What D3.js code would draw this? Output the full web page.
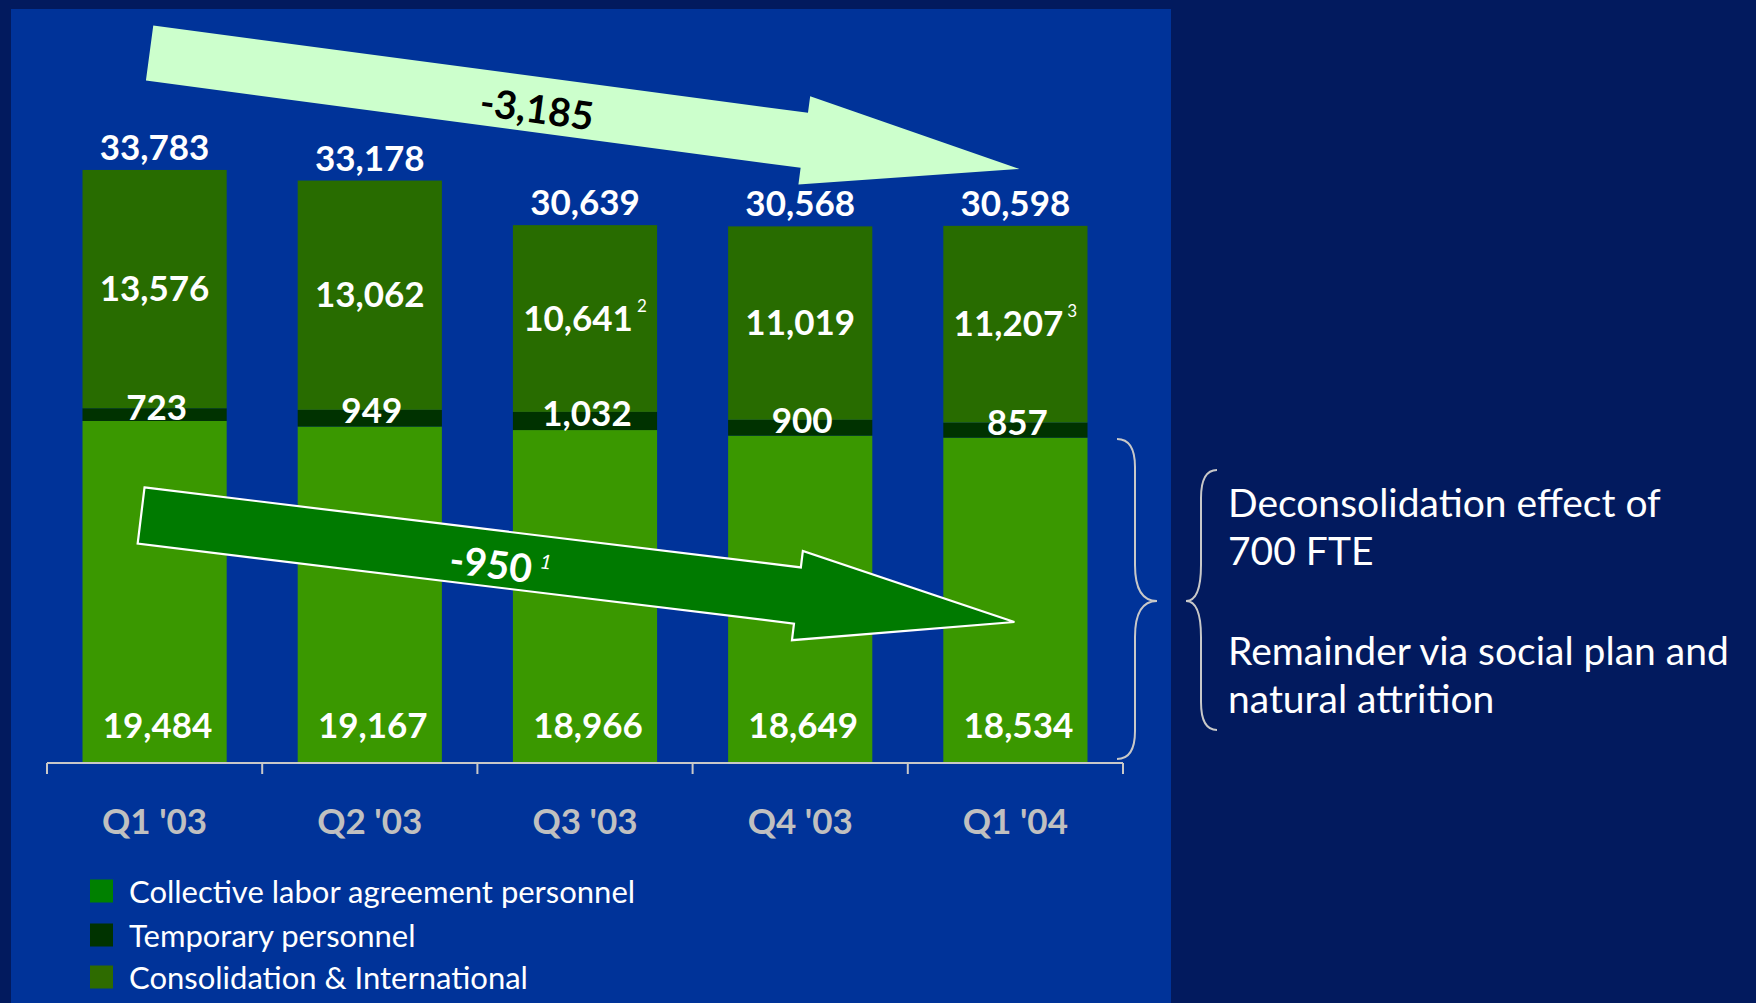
<!DOCTYPE html>
<html>
<head>
<meta charset="utf-8">
<script src="https://cdn.jsdelivr.net/npm/d3@7/dist/d3.min.js"></script>
<style>
  html, body { margin: 0; padding: 0; background: #021a5e; }
  svg { display: block; }
  text { font-family: Lato, "Open Sans", "DejaVu Sans", sans-serif; }
</style>
</head>
<body>
<svg id="chart" width="1756" height="1003"></svg>
<script>
// Headcount by quarter (FTE), stacked bottom to top
const quarters = ["Q1 '03", "Q2 '03", "Q3 '03", "Q4 '03", "Q1 '04"];
const collective = [19484, 19167, 18966, 18649, 18534];
const temporary = [723, 949, 1032, 900, 857];
const consolidation = [13576, 13062, 10641, 11019, 11207];
const consolidationNotes = ["", "", "2", "", "3"];
const seriesNames = ["Collective labor agreement personnel", "Temporary personnel", "Consolidation & International"];
const totalChange = "-3,185";
const collectiveChange = "-950";
const collectiveChangeNote = "1";
const sideNotes = [["Deconsolidation effect of", "700 FTE"], ["Remainder via social plan and", "natural attrition"]];

const barColors = ["#3a9800", "#003200", "#286c00"];
const legendColors = ["#008000", "#003300", "#2e6b00"];

const svg = d3.select("#chart");
const fmt = d3.format(",");

// panel
svg.append("rect").attr("x", 11).attr("y", 9).attr("width", 1160).attr("height", 1000).attr("fill", "#003399");

const x = d3.scaleBand().domain(quarters).range([47, 1123]).paddingInner(0.33).paddingOuter(0.165);
const y = d3.scaleLinear().domain([0, 35000]).range([763, 763 - 35000 * 0.017555]);
const xc = q => x(q) + x.bandwidth() / 2;

const rows = quarters.map((q, i) => ({
  q, i,
  vals: [collective[i], temporary[i], consolidation[i]],
  total: collective[i] + temporary[i] + consolidation[i]
}));
const stack = d3.stack().keys([0, 1, 2]).value((d, k) => d.vals[k]);
const layers = stack(rows);

const g = svg.append("g");
layers.forEach((layer, k) => {
  g.selectAll(null).data(layer).join("rect")
    .attr("x", d => x(d.data.q))
    .attr("width", x.bandwidth())
    .attr("y", d => y(d[1]))
    .attr("height", d => y(d[0]) - y(d[1]))
    .attr("fill", barColors[k]);
});

// axis line with boundary ticks
const axisY = y(0);
svg.append("line").attr("x1", x.range()[0]).attr("x2", x.range()[1]).attr("y1", axisY).attr("y2", axisY)
  .attr("stroke", "#c8c8c8").attr("stroke-width", 2);
const tickXs = d3.range(quarters.length + 1).map(i => x.range()[0] + i * x.step());
svg.selectAll(null).data(tickXs).join("line")
  .attr("x1", d => d).attr("x2", d => d).attr("y1", axisY).attr("y2", axisY + 11)
  .attr("stroke", "#c8c8c8").attr("stroke-width", 2);

// category labels
svg.selectAll(null).data(quarters).join("text")
  .attr("x", d => xc(d)).attr("y", 820)
  .attr("text-anchor", "middle").attr("dominant-baseline", "central")
  .attr("font-size", 35).attr("font-weight", 700).attr("fill", "#c0c0c0")
  .text(d => d);

const labelStyle = sel => sel.attr("text-anchor", "middle").attr("font-size", 35)
  .attr("font-weight", 700).attr("fill", "#ffffff");

// totals
svg.selectAll(null).data(rows).join("text")
  .attr("x", d => xc(d.q)).attr("y", d => y(d.total) - 10)
  .call(labelStyle).text(d => fmt(d.total));

// consolidation labels (centred in segment)
const consText = svg.selectAll(null).data(layers[2]).join("text")
  .attr("x", d => xc(d.data.q)).attr("y", d => (y(d[0]) + y(d[1])) / 2 - 2)
  .attr("dominant-baseline", "central")
  .call(labelStyle);
consText.append("tspan").text(d => fmt(d.data.vals[2]));
consText.append("tspan").attr("font-size", 17).attr("font-weight", 400).attr("dx", 4).attr("dy", -12)
  .text(d => consolidationNotes[d.data.i]);

// temporary labels
svg.selectAll(null).data(layers[1]).join("text")
  .attr("x", d => xc(d.data.q) + 2).attr("y", d => (y(d[0]) + y(d[1])) / 2 - 9)
  .attr("dominant-baseline", "central")
  .call(labelStyle).text(d => fmt(d.data.vals[1]));

// collective labels
svg.selectAll(null).data(layers[0]).join("text")
  .attr("x", d => xc(d.data.q) + 3).attr("y", d => y(d[0]) - 39)
  .attr("dominant-baseline", "central")
  .call(labelStyle).text(d => fmt(d.data.vals[0]));

// block arrow built along the line tail -> tip
function arrowPath(tx, ty, hx, hy, halfShaft, headLen, halfHead) {
  const len = Math.hypot(hx - tx, hy - ty);
  const ux = (hx - tx) / len, uy = (hy - ty) / len;
  const px = -uy, py = ux;
  const b = len - headLen;
  const pt = (a, s) => [tx + ux * a + px * s, ty + uy * a + py * s];
  const pts = [pt(0, -halfShaft), pt(b, -halfShaft), pt(b, -halfHead), pt(len, 0),
               pt(b, halfHead), pt(b, halfShaft), pt(0, halfShaft)];
  return d3.line()(pts) + "Z";
}
const firstQ = quarters[0], lastQ = quarters[quarters.length - 1];

// overall change arrow
const a1 = { tx: xc(firstQ) - 5, ty: 53, hx: xc(lastQ) + 4, hy: 169 };
svg.append("path").attr("d", arrowPath(a1.tx, a1.ty, a1.hx, a1.hy, 27.8, 217, 44.5)).attr("fill", "#ccffcc");
const ang1 = Math.atan2(a1.hy - a1.ty, a1.hx - a1.tx) * 180 / Math.PI;
svg.append("text").attr("transform", `translate(537,108) rotate(${ang1})`)
  .attr("text-anchor", "middle").attr("dominant-baseline", "central")
  .attr("font-size", 39).attr("font-weight", 700).attr("fill", "#000000").text(totalChange);

// collective change arrow
const a2 = { tx: xc(firstQ) - 13.5, ty: 515.5, hx: xc(lastQ) - 1, hy: 622 };
svg.append("path").attr("d", arrowPath(a2.tx, a2.ty, a2.hx, a2.hy, 28.3, 218.6, 45))
  .attr("fill", "#007a00").attr("stroke", "#ffffff").attr("stroke-width", 2.2).attr("stroke-linejoin", "miter");
const ang2 = Math.atan2(a2.hy - a2.ty, a2.hx - a2.tx) * 180 / Math.PI;
const t2 = svg.append("text").attr("transform", `translate(491,563) rotate(${ang2})`)
  .attr("text-anchor", "middle").attr("dominant-baseline", "central")
  .attr("font-size", 39).attr("font-weight", 700).attr("fill", "#ffffff");
t2.append("tspan").text(collectiveChange);
svg.append("text").attr("transform", `translate(546,561) rotate(${ang2})`)
  .attr("text-anchor", "middle").attr("dominant-baseline", "central")
  .attr("font-size", 20).attr("font-style", "italic").attr("fill", "#ffffff").text(collectiveChangeNote);

// braces
function brace(xEnd, xMid, xPoint, yTop, yMid, yBot, rEnd, rMid) {
  return `M${xEnd},${yTop} Q${xMid},${yTop} ${xMid},${yTop + rEnd} L${xMid},${yMid - rMid} ` +
    `Q${xMid},${yMid} ${xPoint},${yMid} Q${xMid},${yMid} ${xMid},${yMid + rMid} ` +
    `L${xMid},${yBot - rEnd} Q${xMid},${yBot} ${xEnd},${yBot}`;
}
svg.append("path").attr("d", brace(1117, 1135, 1157, 439, 601, 759, 28, 36))
  .attr("fill", "none").attr("stroke", "#c8c8c8").attr("stroke-width", 2);
svg.append("path").attr("d", brace(1217, 1201, 1186, 470, 601, 730, 28, 36))
  .attr("fill", "none").attr("stroke", "#c8c8c8").attr("stroke-width", 2);

// side notes
const noteBase = [517, 665];
sideNotes.forEach((lines, i) => {
  lines.forEach((line, j) => {
    svg.append("text").attr("x", 1228).attr("y", noteBase[i] + j * 48)
      .attr("font-size", 39).attr("fill", "#ffffff").text(line);
  });
});

// legend
const legendY = [891, 935, 977];
const lg = svg.append("g");
seriesNames.forEach((name, i) => {
  lg.append("rect").attr("x", 90).attr("y", legendY[i] - 11.5).attr("width", 23).attr("height", 23).attr("fill", legendColors[i]);
  lg.append("text").attr("x", 129).attr("y", legendY[i]).attr("dominant-baseline", "central")
    .attr("font-size", 31).attr("fill", "#ffffff").text(name);
});
</script>
</body>
</html>
